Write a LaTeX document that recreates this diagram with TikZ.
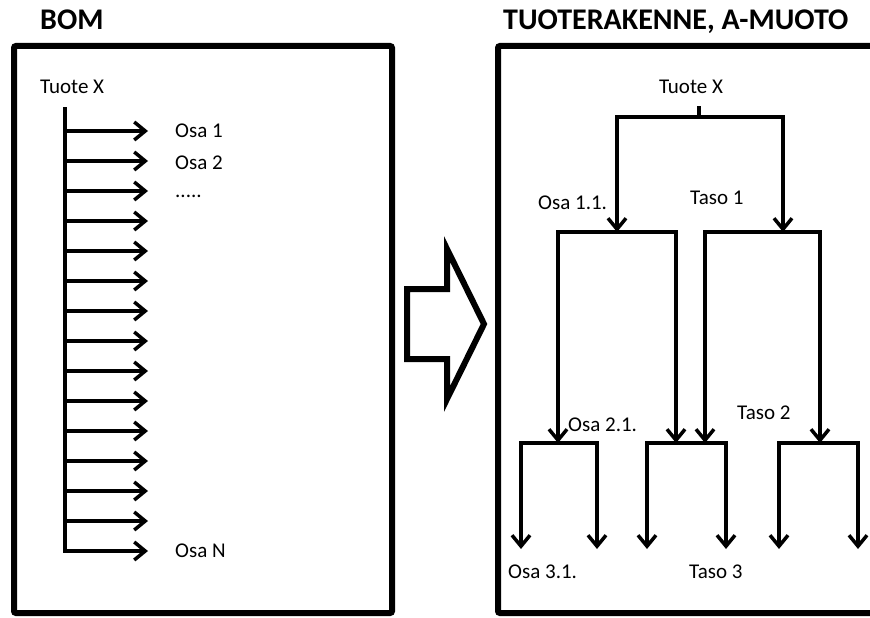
\documentclass[tikz,border=0pt]{standalone}
\usepackage{fontspec}
\setmainfont{Carlito}
\usetikzlibrary{positioning,arrows.meta}

\begin{document}
\begin{tikzpicture}[x=1pt, y=-1pt, line join=miter,
  frame/.style={line width=6pt, rounded corners=2pt},
  ln/.style={line width=3.5pt},
  arr/.style={ln, -{Straight Barb[length=11pt, width=18pt]}},
  dbl/.style={ln, {Straight Barb[length=11pt, width=18pt]}-{Straight Barb[length=11pt, width=18pt]}},
  lbl/.style={font=\fontsize{21}{24}\selectfont, inner sep=0pt, anchor=west},
  ttl/.style={font=\fontsize{30}{34}\selectfont\bfseries, inner sep=0pt, anchor=base west}]
\clip (0,0) rectangle (870,618);
% titles and frames
\node[ttl] (bomttl) at (40,30) {BOM};
\node[ttl] (treettl) at (503,30) {TUOTERAKENNE, A-MUOTO};
\draw[frame] (14,46) rectangle (392,613);
\draw[frame] (498,46) rectangle (890,613);
% BOM list
\node[lbl] (bomx) at (40,87) {Tuote X};
\coordinate (v0) at (65,107);
\foreach \i in {0,...,14} {
  \coordinate (s\i) at (65,131+30*\i);
  \coordinate (e\i) at (148,131+30*\i);
}
\foreach \i in {0,...,13}
  \draw[arr] (s\i) -- (e\i);
\draw[arr] (v0) -- (s14) -- (e14);
\node[lbl, right=27pt of e0] (osa1) {Osa 1};
\node[lbl, right=27pt of e1, yshift=-2pt] (osa2) {Osa 2};
\node[lbl, right=27pt of e2, yshift=-5pt] (dots) {.....};
\node[lbl, right=27pt of e14] (osan) {Osa N};
% big arrow
\draw[line width=6pt] (407,289) -- (447,289) -- (447,249) -- (484,324)
  -- (447,399) -- (447,359) -- (407,359) -- cycle;
% tree levels
\coordinate (L2) at (0,232);
\coordinate (L3) at (0,443);
\coordinate (L4) at (0,549);
\node[lbl, anchor=center] (treex) at (691,87) {Tuote X};
\coordinate (r0) at (699,106);
\coordinate (b1) at (617,117);
\coordinate (b2) at (783,117);
\draw[ln] (r0) -- (r0|-b1);
\draw[dbl] (b1|-L2) -- (b1) -- (b2) -- (b2|-L2);
\coordinate (a1) at (558,232);
\coordinate (a2) at (676,232);
\coordinate (a3) at (705,232);
\coordinate (a4) at (820,232);
\draw[dbl] (a1|-L3) -- (a1) -- (a2) -- (a2|-L3);
\draw[dbl] (a3|-L3) -- (a3) -- (a4) -- (a4|-L3);
\foreach \p/\q in {521/597, 647/726, 779/858} {
  \coordinate (c\p) at (\p,443);
  \coordinate (c\q) at (\q,443);
  \draw[dbl] (c\p|-L4) -- (c\p) -- (c\q) -- (c\q|-L4);
}
\node[lbl] (osa11) at (538,203) {Osa 1.1.};
\node[lbl] (taso1) at (690,198) {Taso 1};
\node[lbl] (osa21) at (568,425) {Osa 2.1.};
\node[lbl] (taso2) at (737,413) {Taso 2};
\node[lbl] (osa31) at (508,572) {Osa 3.1.};
\node[lbl] (taso3) at (689,572) {Taso 3};
\end{tikzpicture}
\end{document}
